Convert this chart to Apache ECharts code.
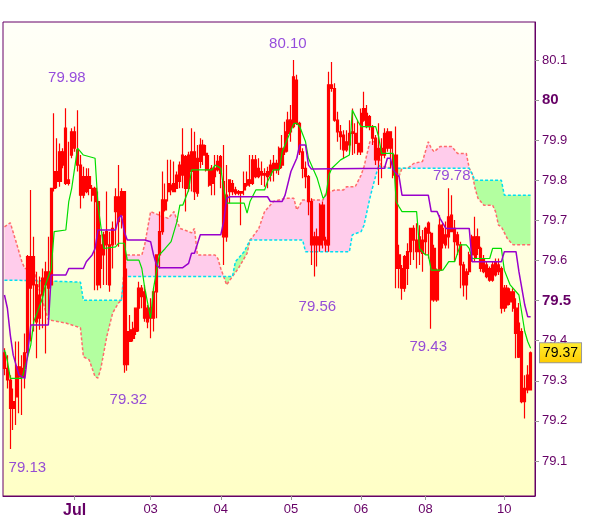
<!DOCTYPE html>
<html><head><meta charset="utf-8">
<script src="https://cdn.jsdelivr.net/npm/echarts@6/dist/echarts.min.js"></script>
<style>html,body{margin:0;padding:0;background:#fff}#c{width:600px;height:519px}</style>
</head><body><div id="c"></div>
<script>
// ---- data (hourly candles) ----
const slotCount = 182;
const opens = [
79.370,79.331,79.302,79.231,79.260,79.335,79.310,79.331,79.370,79.610,
79.539,79.539,79.456,79.514,79.539,79.572,79.539,79.780,79.822,79.797,
79.871,79.930,79.792,79.863,79.921,79.876,79.838,79.763,79.809,79.780,
79.780,79.780,79.747,79.580,79.614,79.672,79.639,79.639,79.722,79.759,
79.713,79.772,79.340,79.427,79.406,79.423,79.481,79.531,79.522,79.447,
79.481,79.456,79.522,79.614,79.672,79.751,79.772,79.788,79.772,79.780,
79.797,79.813,79.859,79.780,79.871,79.772,79.855,79.847,79.888,79.867,
79.826,79.792,79.830,79.826,79.817,79.797,79.659,79.772,79.792,79.776,
79.768,79.772,79.776,79.788,79.801,79.792,79.851,79.809,79.822,79.813,
79.809,79.813,79.826,79.842,79.830,79.880,79.871,79.917,79.950,79.934,
80.050,79.942,79.871,79.830,79.809,79.747,79.639,79.659,79.639,79.738,
79.651,79.639,80.038,80.029,79.950,79.921,79.913,79.876,79.888,79.917,
79.917,79.892,79.871,79.979,79.967,79.934,79.934,79.905,79.851,79.880,
79.863,79.921,79.880,79.863,79.863,79.580,79.580,79.531,79.580,79.622,
79.680,79.651,79.622,79.651,79.647,79.668,79.668,79.502,79.576,79.576,
79.680,79.639,79.659,79.713,79.680,79.664,79.639,79.589,79.539,79.572,
79.614,79.659,79.630,79.630,79.605,79.589,79.580,79.551,79.564,79.589,
79.580,79.481,79.531,79.497,79.522,79.481,79.444,79.423,79.248,79.277,
79.277];
const closes = [
79.331,79.302,79.231,79.248,79.335,79.310,79.331,79.370,79.610,79.531,
79.610,79.447,79.514,79.556,79.572,79.531,79.780,79.822,79.797,79.871,
79.838,79.792,79.801,79.921,79.880,79.838,79.763,79.809,79.772,79.809,
79.763,79.747,79.539,79.639,79.664,79.639,79.539,79.680,79.759,79.697,
79.772,79.340,79.423,79.398,79.431,79.481,79.531,79.510,79.456,79.481,
79.456,79.522,79.614,79.672,79.751,79.726,79.792,79.776,79.792,79.813,
79.838,79.863,79.780,79.863,79.822,79.871,79.768,79.888,79.863,79.826,
79.788,79.830,79.809,79.847,79.859,79.659,79.763,79.801,79.772,79.768,
79.772,79.768,79.792,79.801,79.792,79.851,79.809,79.830,79.813,79.817,
79.822,79.838,79.842,79.826,79.880,79.838,79.921,79.950,79.921,80.058,
79.942,79.871,79.830,79.809,79.747,79.639,79.659,79.639,79.738,79.651,
79.639,80.038,80.029,79.950,79.921,79.909,79.876,79.896,79.917,79.921,
79.892,79.871,79.967,79.950,79.934,79.959,79.905,79.851,79.880,79.863,
79.917,79.880,79.921,79.813,79.580,79.614,79.531,79.610,79.622,79.680,
79.651,79.622,79.659,79.618,79.680,79.693,79.502,79.630,79.502,79.688,
79.643,79.664,79.709,79.672,79.647,79.639,79.589,79.539,79.572,79.614,
79.659,79.605,79.659,79.580,79.572,79.560,79.551,79.589,79.597,79.572,
79.481,79.531,79.489,79.522,79.481,79.418,79.359,79.248,79.281,79.314,
79.370];
const lows = [
79.314,79.281,79.130,79.177,79.190,79.219,79.215,79.281,79.356,79.398,
79.423,79.356,79.427,79.431,79.368,79.464,79.531,79.772,79.780,79.784,
79.830,79.788,79.787,79.855,79.871,79.822,79.730,79.755,79.768,79.763,
79.747,79.526,79.526,79.531,79.539,79.539,79.522,79.580,79.639,79.634,
79.680,79.320,79.325,79.398,79.398,79.414,79.423,79.481,79.447,79.431,
79.406,79.423,79.456,79.580,79.664,79.722,79.747,79.763,79.772,79.780,
79.780,79.780,79.722,79.772,79.772,79.751,79.759,79.830,79.838,79.822,
79.784,79.763,79.763,79.822,79.780,79.589,79.647,79.743,79.763,79.763,
79.763,79.688,79.763,79.784,79.784,79.788,79.805,79.805,79.788,79.784,
79.780,79.797,79.797,79.817,79.813,79.830,79.863,79.871,79.896,79.930,
79.938,79.863,79.805,79.780,79.713,79.589,79.560,79.585,79.622,79.630,
79.622,79.622,80.021,79.946,79.896,79.876,79.855,79.871,79.871,79.863,
79.867,79.863,79.863,79.946,79.930,79.925,79.888,79.838,79.788,79.805,
79.855,79.871,79.830,79.805,79.531,79.531,79.502,79.522,79.539,79.589,
79.601,79.580,79.589,79.572,79.614,79.605,79.430,79.497,79.497,79.572,
79.630,79.630,79.630,79.672,79.597,79.614,79.531,79.510,79.502,79.564,
79.597,79.597,79.614,79.572,79.568,79.556,79.547,79.547,79.560,79.564,
79.468,79.472,79.481,79.489,79.472,79.356,79.357,79.244,79.206,79.269,
79.277];
const highs = [
79.381,79.364,79.314,79.281,79.398,79.398,79.364,79.418,79.614,79.776,
79.659,79.572,79.560,79.580,79.597,79.659,79.780,79.967,79.905,79.892,
79.880,79.980,79.896,79.930,79.934,79.975,79.863,79.834,79.830,79.830,
79.788,79.784,79.772,79.664,79.672,79.772,79.672,79.697,79.780,79.838,
79.780,79.772,79.580,79.464,79.447,79.481,79.547,79.539,79.539,79.489,
79.506,79.531,79.614,79.722,79.822,79.792,79.851,79.851,79.847,79.822,
79.847,79.930,79.863,79.871,79.930,79.921,79.888,79.905,79.901,79.888,
79.863,79.838,79.863,79.863,79.863,79.888,79.838,79.801,79.801,79.784,
79.776,79.772,79.822,79.822,79.863,79.863,79.863,79.855,79.847,79.830,
79.834,79.851,79.863,79.851,79.884,79.913,79.946,79.971,79.988,80.100,
80.063,79.946,79.880,79.847,79.813,79.755,79.672,79.680,79.743,79.747,
79.659,80.071,80.095,80.042,79.971,79.938,79.925,79.925,79.950,79.979,
79.942,79.950,79.979,80.021,79.988,79.963,79.938,79.913,79.942,79.905,
79.930,79.930,79.921,79.905,79.934,79.639,79.589,79.614,79.643,79.680,
79.688,79.693,79.688,79.676,79.684,79.697,79.672,79.639,79.580,79.713,
79.693,79.697,79.780,79.763,79.701,79.672,79.647,79.597,79.580,79.622,
79.664,79.709,79.680,79.634,79.614,79.597,79.585,79.597,79.605,79.605,
79.585,79.539,79.539,79.531,79.531,79.506,79.494,79.431,79.314,79.339,
79.373];

// Ichimoku lines: [candle index, price] vertices
const tenkan = [[0,79.377],[1,79.35],[2,79.306],[6,79.306],[9,79.389],[10,79.447],[13,79.506],[14,79.539],[16,79.58],[17,79.672],[21,79.676],[22,79.747],[23,79.78],[25,79.88],[27,79.863],[31,79.855],[32,79.738],[34,79.63],[38,79.634],[39,79.643],[41,79.643],[42,79.601],[46,79.601],[47,79.58],[48,79.531],[50,79.456],[51,79.531],[53,79.614],[55,79.63],[57,79.647],[59,79.697],[60,79.738],[61,79.738],[63,79.776],[64,79.826],[71,79.826],[72,79.838],[74,79.83],[75,79.78],[76,79.743],[82,79.743],[83,79.718],[84,79.747],[86,79.776],[89,79.776],[90,79.797],[92,79.826],[94,79.826],[95,79.871],[99,79.942],[100,79.942],[101,79.934],[103,79.896],[104,79.855],[107,79.805],[109,79.755],[110,79.763],[111,79.813],[112,79.83],[115,79.851],[118,79.863],[119,79.975],[121,79.946],[122,79.934],[127,79.934],[128,79.909],[129,79.867],[133,79.867],[134,79.747],[135,79.734],[136,79.722],[141,79.722],[142,79.63],[144,79.614],[145,79.614],[146,79.576],[150,79.576],[152,79.597],[154,79.597],[156,79.639],[158,79.639],[159,79.63],[160,79.605],[166,79.605],[167,79.63],[170,79.63],[171,79.576],[173,79.539],[176,79.514],[178,79.423],[179,79.398],[180,79.381]];
const kijun = [[0,79.514],[1,79.481],[2,79.414],[3,79.364],[5,79.314],[7,79.306],[8,79.373],[9,79.439],[15,79.439],[16,79.564],[21,79.564],[22,79.58],[27,79.58],[28,79.597],[30,79.614],[31,79.63],[32,79.676],[38,79.676],[39,79.705],[40,79.713],[41,79.672],[42,79.651],[48,79.651],[50,79.647],[51,79.614],[52,79.589],[53,79.582],[61,79.582],[63,79.593],[64,79.618],[65,79.618],[67,79.664],[74,79.664],[75,79.697],[76,79.755],[77,79.759],[90,79.759],[91,79.747],[95,79.747],[96,79.763],[98,79.822],[100,79.855],[101,79.888],[103,79.888],[104,79.838],[105,79.828],[130,79.83],[131,79.855],[132,79.855],[133,79.826],[135,79.809],[136,79.763],[145,79.763],[146,79.722],[148,79.722],[149,79.705],[151,79.68],[159,79.68],[160,79.597],[170,79.597],[171,79.622],[175,79.622],[176,79.572],[178,79.489],[179,79.46],[180,79.46]];
const spanA = [[0,79.551],[11,79.55],[26,79.546],[27,79.501],[40,79.501],[41,79.56],[75,79.56],[78,79.56],[79,79.597],[82,79.622],[84,79.651],[102,79.651],[103,79.622],[118,79.622],[119,79.664],[122,79.672],[123,79.688],[125,79.755],[126,79.784],[128,79.838],[129,79.83],[133,79.83],[136,79.83],[159,79.83],[161,79.80],[170,79.80],[171,79.763],[180,79.763]];
const spanB = [[0,79.684],[2,79.694],[4,79.646],[6,79.596],[7,79.58],[10,79.58],[11,79.55],[13,79.50],[15,79.452],[21,79.444],[26,79.432],[27,79.36],[29,79.352],[31,79.31],[32,79.307],[33,79.332],[35,79.41],[37,79.469],[39,79.494],[40,79.501],[41,79.58],[42,79.614],[47,79.614],[48,79.64],[50,79.722],[53,79.713],[56,79.705],[58,79.722],[60,79.68],[62,79.675],[64,79.669],[65,79.68],[66,79.614],[72,79.614],[73,79.605],[74,79.58],[75,79.56],[76,79.539],[77,79.55],[78,79.56],[80,79.58],[83,79.618],[84,79.651],[85,79.66],[87,79.68],[89,79.722],[92,79.747],[96,79.755],[99,79.755],[100,79.726],[102,79.751],[109,79.751],[110,79.768],[113,79.776],[116,79.776],[117,79.784],[120,79.784],[122,79.813],[123,79.834],[125,79.896],[127,79.896],[128,79.86],[129,79.835],[133,79.83],[134,79.822],[135,79.81],[136,79.83],[138,79.83],[140,79.842],[143,79.847],[145,79.896],[146,79.88],[147,79.871],[149,79.884],[153,79.884],[155,79.867],[158,79.867],[159,79.83],[160,79.817],[161,79.78],[162,79.755],[164,79.738],[167,79.738],[168,79.722],[169,79.688],[170,79.684],[172,79.655],[174,79.639],[180,79.639]];
// cloud pieces between crossings: [from, to, kind]
const cloudSegments = [[0,11,'bear'],[11,40,'bull'],[40,75,'bear'],[75,84,'bull'],[84,133,'bear'],[133,136,'bull'],[136,159,'bear'],[159,180,'bull']];

const dayTicks = [[24,'Jul'],[50,'03'],[74,'04'],[98,'05'],[122,'06'],[144,'08'],[171,'10']];
const yTicks = [79.1,79.2,79.3,79.4,79.5,79.6,79.7,79.8,79.9,80.0,80.1];
const boldTicks = ['80','79.5'];
// daily high / low notes: [candle index, price]
const notes = [[21,79.98],[99,80.10],[41,79.32],[2,79.13],[106,79.56],[146,79.43],[152,79.78]];
const lastPrice = 79.37;

// ---- styles ----
const noteOffsets = [[1,-30],[-6,-16],[4,27],[17,19],[3,30],[-3,18],[3,-12]];
const FONT = 'Liberation Sans';
const AXIS_COLOR = '#660066';

const categories = Array.from({length: slotCount}, (_, i) => 'h' + i);
const tickMap = new Map(dayTicks);
const candles = opens.map((o, i) => [o, closes[i], lows[i], highs[i]]);

const chart = echarts.init(document.getElementById('c'), null, {renderer: 'canvas'});

function pick(list, s, e) { return list.filter(p => p[0] >= s && p[0] <= e); }

chart.setOption({
  animation: false,
  backgroundColor: '#ffffff',
  grid: {
    left: 3, right: 65, top: 22, bottom: 23, show: true,
    borderColor: AXIS_COLOR, borderWidth: 1,
    backgroundColor: {type: 'linear', x: 0, y: 0, x2: 0, y2: 1,
      colorStops: [{offset: 0, color: '#fffff8'}, {offset: 1, color: '#ffffc6'}]}
  },
  xAxis: {
    type: 'category', data: categories, boundaryGap: true,
    axisLine: {show: true, lineStyle: {color: AXIS_COLOR, width: 1}},
    axisTick: {show: true, alignWithLabel: true, length: 4,
      interval: (i) => tickMap.has(i), lineStyle: {color: '#999999'}},
    axisLabel: {
      interval: (i) => tickMap.has(i), margin: 7, color: AXIS_COLOR,
      fontFamily: FONT, fontSize: 13,
      formatter: (v, i) => {
        const t = tickMap.get(i) || '';
        return t === 'Jul' ? '{b|' + t + '}' : t;
      },
      rich: {b: {fontFamily: FONT, fontSize: 16, fontWeight: 'bold', color: AXIS_COLOR}}
    },
    splitLine: {show: false}
  },
  yAxis: {
    type: 'value', position: 'right', min: 79.0127, max: 80.1948,
    splitLine: {show: false},
    axisLine: {show: true, lineStyle: {color: AXIS_COLOR, width: 1}},
    axisTick: {show: true, customValues: yTicks, length: 4, lineStyle: {color: '#999999'}},
    axisLabel: {
      customValues: yTicks, margin: 7, color: AXIS_COLOR, fontFamily: FONT, fontSize: 13,
      formatter: (v) => {
        const s = String(+(+v).toFixed(1));
        return boldTicks.includes(s) ? '{b|' + s + '}' : s;
      },
      rich: {b: {fontFamily: FONT, fontSize: 15, fontWeight: 'bold', color: AXIS_COLOR}}
    }
  },
  series: [
    {
      type: 'custom', name: 'cloud', silent: true, z: 1,
      dimensions: ['from', 'to'], encode: {x: ['from', 'to']},
      data: cloudSegments.map(s => [s[0], s[1]]),
      renderItem: (params, api) => {
        const seg = cloudSegments[params.dataIndex];
        const a = pick(spanA, seg[0], seg[1]);
        const b = pick(spanB, seg[0], seg[1]).slice().reverse();
        const pts = a.concat(b).map(p => api.coord(p));
        return {type: 'polygon', shape: {points: pts},
          style: {fill: seg[2] === 'bear' ? '#ffcceb' : '#b3ffa0', stroke: null}};
      }
    },
    {
      type: 'line', name: 'spanB', data: spanB, showSymbol: false, silent: true, z: 2,
      lineStyle: {color: '#ff6b6b', width: 1.5, type: [3, 2]}
    },
    {
      type: 'line', name: 'spanA', data: spanA, showSymbol: false, silent: true, z: 2,
      lineStyle: {color: '#00e0f0', width: 1.5, type: [3, 2]}
    },
    {
      type: 'candlestick', name: 'price', data: candles, barWidth: 2.6, z: 3, silent: true,
      itemStyle: {color: '#ff0000', color0: '#ff0000', borderColor: '#ff0000',
        borderColor0: '#ff0000', borderWidth: 1.2},
      markLine: {
        silent: true, symbol: ['none', 'none'], animation: false,
        lineStyle: {color: 'rgba(0,0,0,0)', width: 0},
        data: [{yAxis: lastPrice}],
        label: {
          show: true, position: 'end', distance: 5,
          formatter: lastPrice.toFixed(2), color: '#000000',
          fontFamily: FONT, fontSize: 14, padding: [3, 3, 2, 3],
          borderColor: '#999999', borderWidth: 1,
          backgroundColor: {type: 'linear', x: 0, y: 0, x2: 0, y2: 1,
            colorStops: [{offset: 0, color: '#ffee33'}, {offset: 1, color: '#ffcc00'}]}
        }
      }
    },
    {
      type: 'line', name: 'tenkan', data: tenkan, showSymbol: false, silent: true, z: 4,
      lineStyle: {color: '#00dd00', width: 1.2}
    },
    {
      type: 'line', name: 'kijun', data: kijun, showSymbol: false, silent: true, z: 4,
      lineStyle: {color: '#9900cc', width: 1.5}
    },
    {
      type: 'scatter', name: 'notes', symbolSize: 0, silent: true, z: 5,
      data: notes.map((n, k) => ({value: n, label: {offset: noteOffsets[k]}})),
      label: {show: true, position: 'inside', color: '#7a1fd6', fontFamily: FONT, fontSize: 15,
        formatter: (p) => p.value[1].toFixed(2)}
    }
  ]
});
</script>
</body></html>
